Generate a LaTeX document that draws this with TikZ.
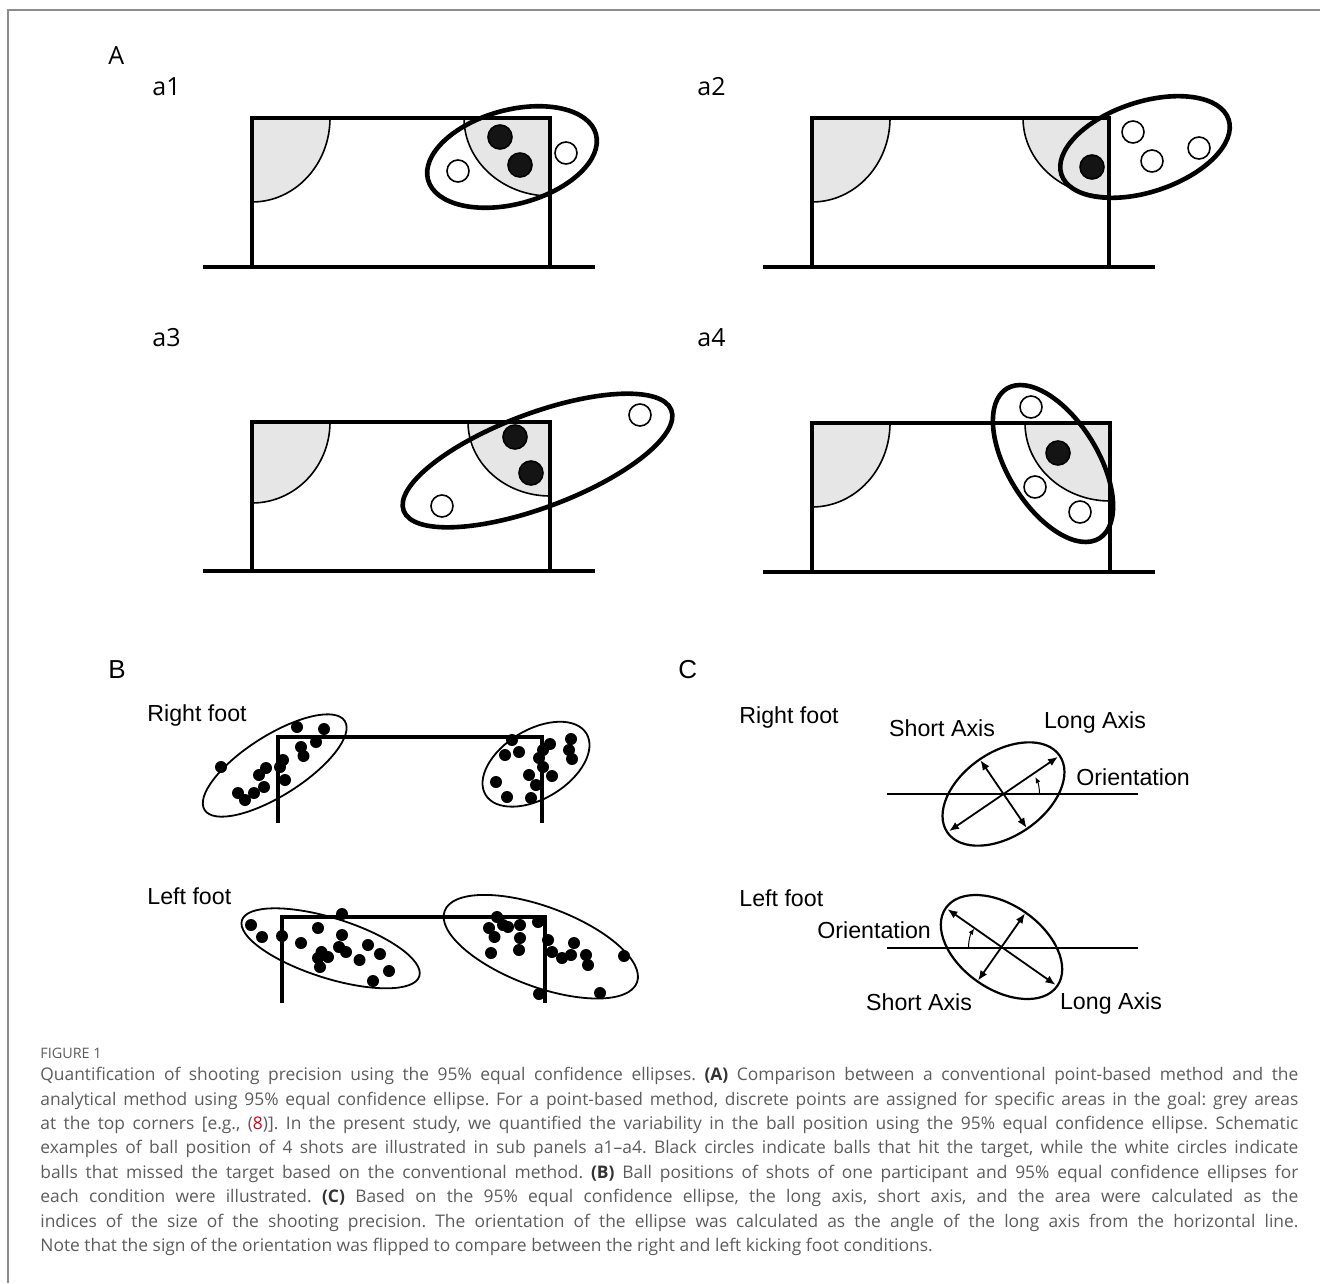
\documentclass[tikz,border=0pt]{standalone}
\usepackage{fontspec}
\setmainfont{Liberation Sans}
\newfontfamily\panelfont{Open Sans}
\newfontfamily\capfont{Open Sans}
\usetikzlibrary{arrows.meta}

\definecolor{cornergray}{HTML}{E6E6E6}
\definecolor{capgray}{HTML}{5C5C5C}
\definecolor{refred}{HTML}{D0021B}
\definecolor{framegray}{HTML}{8C8C8C}

\begin{document}
\begin{tikzpicture}[x=0.5pt, y=-0.5pt,
  goalline/.style={line width=2pt, line join=miter},
  corner/.style={fill=cornergray, draw=black, line width=0.8pt},
  confell/.style={draw=black, line width=2.3pt},
  hit/.style={fill=black!92, draw=black, line width=0.8pt},
  miss/.style={fill=white, draw=black, line width=0.8pt},
  postline/.style={line width=1.7pt, line join=miter},
  shotell/.style={draw=black, line width=0.9pt},
  shot/.style={fill=black},
  axisell/.style={draw=black, line width=1.1pt},
  axisarrow/.style={{Latex[length=5pt,width=4pt]}-{Latex[length=5pt,width=4pt]}, line width=0.9pt},
  turn/.style={-{Latex[length=3pt,width=2.5pt]}, line width=0.5pt},
  panel/.style={font=\panelfont\fontsize{12.5}{14}\selectfont, anchor=west, inner sep=0pt},
  bigpanel/.style={font=\fontsize{13}{15}\selectfont, anchor=west, inner sep=0pt},
  lab/.style={font=\fontsize{11.6}{13}\selectfont, inner sep=0pt},
  caption/.style={font=\capfont\fontsize{8.7}{12.2}\selectfont\frenchspacing, text=capgray,
    text width=629pt, align=justify, inner sep=0pt}
]
\useasboundingbox (0,0) rectangle (1320,1283);
\draw[framegray, line width=0.9pt] (1320,10) -- (8,10) -- (8,1283);

% panel A
\node[panel] (lblA) at (108,56) {A};
\node[panel] (lblaone) at (152,87) {a1};
\node[panel] (lblatwo) at (697,87) {a2};
\node[panel] (lblathree) at (152,338) {a3};
\node[panel] (lblafour) at (697,338) {a4};

% a1
\path[corner] (252,118) -- (330,118) arc[start angle=0, end angle=90, x radius=78, y radius=84] -- cycle;
\path[corner] (550,118) -- (464,118) arc[start angle=180, end angle=90, x radius=86, y radius=78] -- cycle;
\draw[goalline] (252,267) -- (252,118) -- (550,118) -- (550,267);
\draw[goalline] (203,267) -- (595,267);
\draw[confell, rotate around={15.2:(512,157)}] (512,157) ellipse[x radius=87, y radius=47];
\filldraw[hit] (500,137) circle[radius=12];
\filldraw[hit] (520,165) circle[radius=12];
\filldraw[miss] (458,171) circle[radius=11];
\filldraw[miss] (566,153) circle[radius=11];

% a2
\path[corner] (812,118) -- (890,118) arc[start angle=0, end angle=90, x radius=78, y radius=84] -- cycle;
\path[corner] (1109,118) -- (1023,118) arc[start angle=180, end angle=90, x radius=86, y radius=78] -- cycle;
\draw[goalline] (812,267) -- (812,118) -- (1109,118) -- (1109,267);
\draw[goalline] (763,267) -- (1155,267);
\draw[confell, rotate around={18.2:(1145,147)}] (1145,147) ellipse[x radius=88, y radius=45];
\filldraw[hit] (1092,167) circle[radius=12];
\filldraw[miss] (1133,132) circle[radius=11];
\filldraw[miss] (1152,161) circle[radius=11];
\filldraw[miss] (1199,148) circle[radius=11];

% a3
\path[corner] (252,422) -- (330,422) arc[start angle=0, end angle=90, x radius=78, y radius=81] -- cycle;
\path[corner] (550,422) -- (468,422) arc[start angle=180, end angle=90, x radius=82, y radius=74] -- cycle;
\draw[goalline] (252,571) -- (252,422) -- (550,422) -- (550,571);
\draw[goalline] (203,571) -- (595,571);
\draw[confell, rotate around={20.6:(537.5,460.5)}] (537.5,460.5) ellipse[x radius=143, y radius=47];
\filldraw[hit] (515,437) circle[radius=12];
\filldraw[hit] (531,473) circle[radius=12];
\filldraw[miss] (442,506) circle[radius=11];
\filldraw[miss] (640,415) circle[radius=11];

% a4
\path[corner] (812,423) -- (890,423) arc[start angle=0, end angle=90, x radius=78, y radius=84] -- cycle;
\path[corner] (1110,423) -- (1025,423) arc[start angle=180, end angle=90, x radius=85, y radius=78] -- cycle;
\draw[goalline] (812,572) -- (812,423) -- (1110,423) -- (1110,572);
\draw[goalline] (763,572) -- (1155,572);
\draw[confell, rotate around={-58.2:(1053,463.5)}] (1053,463.5) ellipse[x radius=88, y radius=45];
\filldraw[hit] (1058,453) circle[radius=12];
\filldraw[miss] (1031,407) circle[radius=11];
\filldraw[miss] (1035,487) circle[radius=11];
\filldraw[miss] (1080,512) circle[radius=11];

% panel B
\node[bigpanel] (lblB) at (108,670) {B};
\node[lab, anchor=west] (rfB) at (147,715) {Right foot};
\node[lab, anchor=west] (lfB) at (147,896) {Left foot};

\draw[postline] (278,823) -- (278,737) -- (542,737) -- (542,823);
\draw[shotell, rotate around={32.4:(274.7,765.5)}] (274.7,765.5) ellipse[x radius=83, y radius=30];
\draw[shotell, rotate around={31.3:(536,764.2)}] (536,764.2) ellipse[x radius=59, y radius=34.4];
\foreach \p in {(221,767),(297,727),(324,729),(316,742),(301,747),(303.5,756),(283,760),(280,767),
  (266,768),(259,775),(285,780),(264,787),(254,793),(238,793),(245,800),
  (512,740),(505,755),(519,752),(550,744),(543,750),(571,739),(569,750),(572,759),
  (539,758),(543,767),(529,775),(552,776),(496,782),(536,785),(507,797),(531,798)}
  \fill[shot] \p circle[radius=6];

\draw[postline] (282,1003) -- (282,917) -- (545,917) -- (545,1003);
\draw[shotell, rotate around={-17.5:(330.6,948.3)}] (330.6,948.3) ellipse[x radius=93, y radius=30];
\draw[shotell, rotate around={-20.4:(540.8,946.7)}] (540.8,946.7) ellipse[x radius=102.6, y radius=40];
\foreach \p in {(342,914),(251,925),(262,937),(282,936),(301,943),(318,928),(342,935),(321.5,952),
  (339,947),(346,952),(320,967),(328,957),(368,945),(380,954),(359.5,960),(389,971),(373,981),(318,958),
  (497,917),(489,928),(503,925),(494.5,937),(508,927),(520,925),(538,922),(520,938),(519,950),
  (491,953),(548,940),(552,952),(562,958),(574,943),(571,955),(586,955),(588,965),(624,956),
  (539,994),(600,993)}
  \fill[shot] \p circle[radius=6];

% panel C
\node[bigpanel] (lblC) at (678,670) {C};
\node[lab, anchor=west] (rfC) at (739,717) {Right foot};
\node[lab, anchor=west] (lfC) at (739,898) {Left foot};

\coordinate (cU) at (1003.5,794);
\coordinate (cL) at (1001.5,947);

\draw[line width=1pt] (887,794) -- (1138,794);
\draw[axisell, rotate around={34.3:(cU)}] (cU) ellipse[x radius=68, y radius=42];
\path (cU) ++(-34.3:66) coordinate (uLongA) (cU) ++(145.7:66) coordinate (uLongB)
      (cU) ++(-124.3:41) coordinate (uShortA) (cU) ++(55.7:41) coordinate (uShortB);
\draw[axisarrow] (uLongB) -- (uLongA);
\draw[axisarrow] (uShortB) -- (uShortA);
\draw[turn] (cU) ++(36,0) arc[start angle=0, end angle=-28, radius=36];
\node[lab] (saU) at (942,728) {Short Axis};
\node[lab] (laU) at (1095,722) {Long Axis};
\node[lab, anchor=west] (orU) at (1076,777) {Orientation};

\draw[line width=1pt] (887,947.7) -- (1138,947.7);
\draw[axisell, rotate around={-35:(cL)}] (cL) ellipse[x radius=68, y radius=42];
\path (cL) ++(35:66) coordinate (lLongA) (cL) ++(-145:66) coordinate (lLongB)
      (cL) ++(-55:41) coordinate (lShortA) (cL) ++(125:41) coordinate (lShortB);
\draw[axisarrow] (lLongB) -- (lLongA);
\draw[axisarrow] (lShortB) -- (lShortA);
\draw[turn] (cL) ++(-33,0) arc[start angle=180, end angle=214, radius=33];
\node[lab, anchor=west] (orL) at (817,930) {Orientation};
\node[lab] (saL) at (919,1002) {Short Axis};
\node[lab] (laL) at (1111,1003) {Long Axis};

% caption
\node[anchor=west, inner sep=0pt, font=\capfont\fontsize{7.2}{8}\selectfont, text=capgray] (figno) at (40,1053) {FIGURE 1};
\node[caption, anchor=north west] (cap) at (40,1067) {Quantification of shooting precision using the 95\% equal confidence ellipses. {\bfseries\color{black!80}(A)} Comparison between a conventional point-based method and the\linebreak
analytical method using 95\% equal confidence ellipse. For a point-based method, discrete points are assigned for specific areas in the goal: grey areas\linebreak
at the top corners [e.g., (\textcolor{refred}{8})]. In the present study, we quantified the variability in the ball position using the 95\% equal confidence ellipse. Schematic\linebreak
examples of ball position of 4 shots are illustrated in sub panels a1–a4. Black circles indicate balls that hit the target, while the white circles indicate\linebreak
balls that missed the target based on the conventional method. {\bfseries\color{black!80}(B)} Ball positions of shots of one participant and 95\% equal confidence ellipses for\linebreak
each condition were illustrated. {\bfseries\color{black!80}(C)} Based on the 95\% equal confidence ellipse, the long axis, short axis, and the area were calculated as the\linebreak
indices of the size of the shooting precision. The orientation of the ellipse was calculated as the angle of the long axis from the horizontal line.\linebreak
Note that the sign of the orientation was flipped to compare between the right and left kicking foot conditions.};
\end{tikzpicture}
\end{document}
